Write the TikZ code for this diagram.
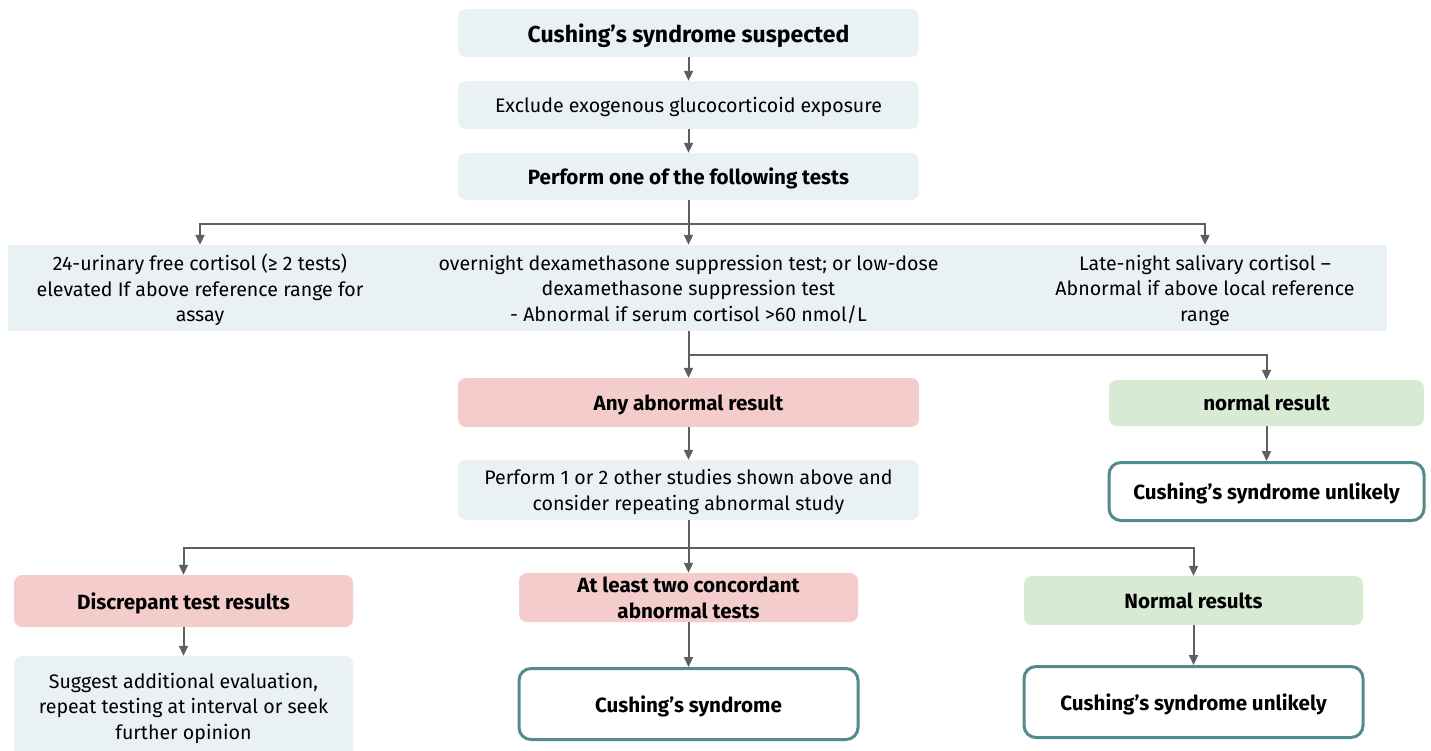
\documentclass[tikz,border=0pt]{standalone}
\usepackage{fontspec}
\setmainfont{Fira Sans}
\usetikzlibrary{arrows.meta}
\definecolor{bluebg}{RGB}{233,241,244}
\definecolor{pinkbg}{RGB}{244,204,204}
\definecolor{greenbg}{RGB}{217,234,211}
\definecolor{tealb}{RGB}{83,138,140}
\definecolor{arrowc}{RGB}{95,95,95}
\begin{document}
\begin{tikzpicture}[x=1pt,y=-1pt,
 base/.style={align=center, inner sep=0pt, text depth=0pt, font=\fontsize{19.6}{25.5}\selectfont},
 bfont/.style={font=\fontsize{20.6}{25.5}\selectfont\bfseries},
 bbox/.style={base, fill=bluebg, rounded corners=8pt},
 pbox/.style={base, bfont, fill=pinkbg, rounded corners=8pt},
 gbox/.style={base, bfont, fill=greenbg, rounded corners=8pt},
 obox/.style={base, bfont, draw=tealb, line width=3pt, fill=white, rounded corners=12pt},
 line/.style={draw=arrowc, line width=2pt},
 arr/.style={line, -{Triangle[length=10pt,width=9pt]}}
]
\useasboundingbox (0,0) rectangle (1431,750);

\node[bbox, font=\fontsize{23}{25}\selectfont\bfseries, minimum width=461, minimum height=48] (s1) at (688.5,33) {Cushing’s syndrome suspected};
\node[bbox, minimum width=461, minimum height=48] (s2) at (688.5,105) {Exclude exogenous glucocorticoid exposure};
\node[bbox, bfont, minimum width=461, minimum height=47] (s3) at (688.5,176.5) {Perform one of the following tests};

\node[fill=bluebg, inner sep=0pt, minimum width=1379, minimum height=86] (band) at (697.5,288) {};
\node[base, minimum height=86] (t1) at (200,288) {24-urinary free cortisol (≥ 2 tests)\\elevated If above reference range for\\assay};
\node[base, minimum height=86] (t2) at (688.5,288) {overnight dexamethasone suppression test; or low-dose\\dexamethasone suppression test\\- Abnormal if serum cortisol >60 nmol/L};
\node[base, minimum height=86] (t3) at (1205,288) {Late-night salivary cortisol –\\Abnormal if above local reference\\range};

\node[pbox, minimum width=461, minimum height=49] (abn) at (688.5,402.5) {Any abnormal result};
\node[gbox, minimum width=315, minimum height=46] (nrm) at (1266.5,403) {normal result};
\node[obox, minimum width=315, minimum height=58] (unl1) at (1266.5,491.5) {Cushing’s syndrome unlikely};

\node[bbox, minimum width=461, minimum height=60] (per2) at (688.5,490) {Perform 1 or 2 other studies shown above and\\consider repeating abnormal study};

\node[pbox, minimum width=339, minimum height=52] (disc) at (183.5,601) {Discrepant test results};
\node[pbox, minimum width=339, minimum height=49] (atl) at (688.5,597.5) {At least two concordant\\abnormal tests};
\node[gbox, minimum width=339, minimum height=49] (nres) at (1193.5,600.5) {Normal results};

\node[bbox, minimum width=339, minimum height=100] (sugg) at (183.5,706) {Suggest additional evaluation,\\repeat testing at interval or seek\\further opinion};
\node[obox, minimum width=339, minimum height=71] (cs) at (688.5,704) {Cushing’s syndrome};
\node[obox, minimum width=339, minimum height=71] (unl2) at (1193.5,702) {Cushing’s syndrome unlikely};

\coordinate (j1) at (688.5,224);
\coordinate (j2) at (688.5,355);
\coordinate (j3) at (688.5,548);

\draw[arr] (s1) -- (s2);
\draw[arr] (s2) -- (s3);
\draw[arr] (s3) -- (t2);
\draw[arr] (j1) -| (t1);
\draw[arr] (j1) -| (t3);
\draw[arr] (t2) -- (abn);
\draw[arr] (j2) -| (nrm);
\draw[arr] (nrm) -- (unl1);
\draw[arr] (abn) -- (per2);
\draw[arr] (per2) -- (atl);
\draw[arr] (j3) -| (disc);
\draw[arr] (j3) -| (nres);
\draw[arr] (disc) -- (sugg);
\draw[arr] (atl) -- (cs);
\draw[arr] (nres) -- (unl2);
\end{tikzpicture}
\end{document}
